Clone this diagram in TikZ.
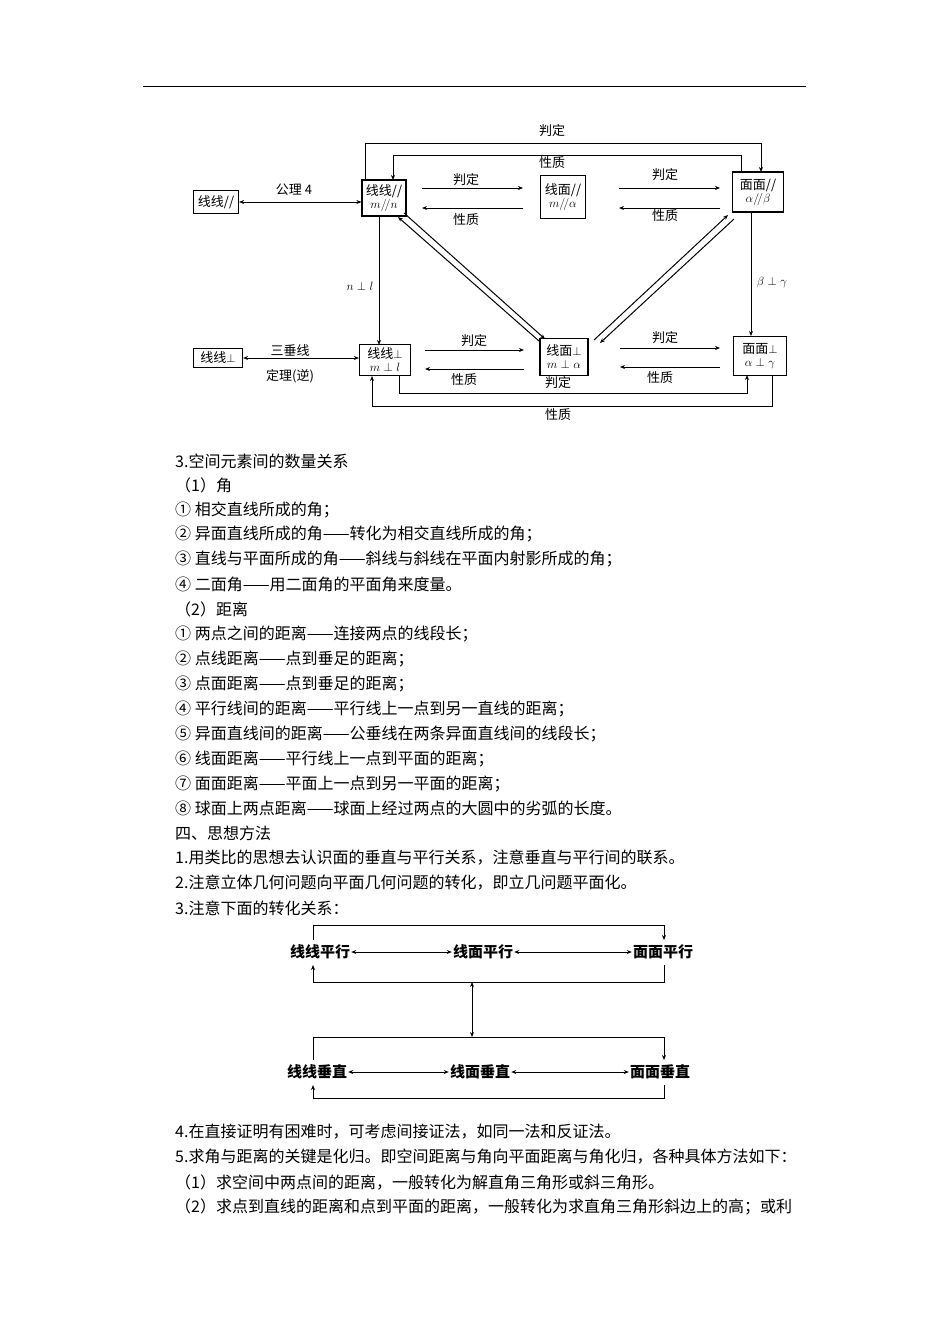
\documentclass[tikz,border=0pt]{standalone}
\usepackage{fontspec}
\setmainfont{Noto Sans CJK SC}
\usetikzlibrary{arrows.meta}
\begin{document}
\begin{tikzpicture}[x=1pt,y=-1pt,
  bx/.style={draw,line width=1.2pt,inner sep=1pt,font=\fontsize{13}{13}\selectfont,align=center},
  lb/.style={font=\fontsize{13}{14}\selectfont},
  ln/.style={anchor=west,inner sep=0pt,font=\fontsize{16}{17}\selectfont},
  ar/.style={-{Stealth[length=5pt,width=4pt]},line width=1pt},
  dar/.style={{Stealth[length=5pt,width=4pt]}-{Stealth[length=5pt,width=4pt]},line width=1pt},
  big/.style={font=\fontsize{15}{16}\selectfont\bfseries,inner sep=1pt}]
\useasboundingbox[fill=white] (0,0) rectangle (950,1344);
\draw[line width=0.8pt] (143,86) -- (806,86);
% top diagram nodes
\node[bx,minimum width=45pt,minimum height=23pt] (a0) at (216,202) {线线//};
\node[bx,minimum width=44pt,minimum height=36pt] (a1) at (384,198) {线线//\\$m/\!/n$};
\node[bx,minimum width=45pt,minimum height=43pt] (a2) at (563,197) {线面//\\$m/\!/\alpha$};
\node[bx,minimum width=51pt,minimum height=40pt] (a3) at (758,192) {面面//\\$\alpha/\!/\beta$};
\node[bx,minimum width=49pt,minimum height=19pt] (b0) at (218,358) {线线$\perp$};
\node[bx,minimum width=51pt,minimum height=31pt] (b1) at (385,360) {线线$\perp$\\$m\perp l$};
\node[bx,minimum width=48pt,minimum height=37pt] (b2) at (564,357) {线面$\perp$\\$m\perp\alpha$};
\node[bx,minimum width=53pt,minimum height=39pt] (b3) at (760,356) {面面$\perp$\\$\alpha\perp\gamma$};
% left
\draw[dar] (a0.east) -- (a1.west |- a0.east);
\node[lb] at (294,190) {公理 4};
\draw[dar] (b0.east) -- (b1.west |- b0.east);
\node[lb] at (290,351) {三垂线};
\node[lb] at (290,376) {定理(逆)};
% horizontal pairs
\draw[ar] (422,188) -- (523,188); \node[lb] at (466,180) {判定};
\draw[ar] (523,208) -- (422,208); \node[lb] at (466,220) {性质};
\draw[ar] (619,188) -- (720,188); \node[lb] at (665,175) {判定};
\draw[ar] (720,208) -- (619,208); \node[lb] at (665,216) {性质};
\draw[ar] (425,350) -- (524,350); \node[lb] at (474,341) {判定};
\draw[ar] (524,369) -- (425,369); \node[lb] at (464,380) {性质};
\draw[ar] (620,348) -- (720,348); \node[lb] at (665,338) {判定};
\draw[ar] (720,367) -- (620,367); \node[lb] at (660,378) {性质};
% top loops
\draw[ar] (365,180) -- (365,143) -- (761,143) -- (761,172);
\node[lb] at (552,131) {判定};
\draw[ar] (741,172) -- (741,155) -- (393,155) -- (393,180);
\node[lb] at (552,163) {性质};
% bottom loops
\draw[ar] (399,376) -- (399,393) -- (747,393) -- (747,375);
\node[lb] at (558,383) {判定};
\draw[ar] (772,375) -- (772,406) -- (372,406) -- (372,376);
\node[lb] at (558,415) {性质};
% verticals
\draw[ar] (379,216) -- (379,345); \node[lb] at (360,286) {$n\perp l$};
\draw[ar] (751,212) -- (751,336); \node[lb] at (772,282) {$\beta\perp\gamma$};
% diagonals
\draw[ar] (404,213) -- (545,339);
\draw[ar] (539,341) -- (398,217);
\draw[ar] (594,340) -- (728,215);
\draw[ar] (734,219) -- (600,343);
% text
\node[ln] at (175,461) {3.空间元素间的数量关系};
\node[ln] at (175,485) {（1）角};
\node[ln] at (175,510) {① 相交直线所成的角；};
\node[ln] at (175,534) {② 异面直线所成的角——转化为相交直线所成的角；};
\node[ln] at (175,559) {③ 直线与平面所成的角——斜线与斜线在平面内射影所成的角；};
\node[ln] at (175,584) {④ 二面角——用二面角的平面角来度量。};
\node[ln] at (175,609) {（2）距离};
\node[ln] at (175,634) {① 两点之间的距离——连接两点的线段长；};
\node[ln] at (175,659) {② 点线距离——点到垂足的距离；};
\node[ln] at (175,684) {③ 点面距离——点到垂足的距离；};
\node[ln] at (175,709) {④ 平行线间的距离——平行线上一点到另一直线的距离；};
\node[ln] at (175,734) {⑤ 异面直线间的距离——公垂线在两条异面直线间的线段长；};
\node[ln] at (175,759) {⑥ 线面距离——平行线上一点到平面的距离；};
\node[ln] at (175,784) {⑦ 面面距离——平面上一点到另一平面的距离；};
\node[ln] at (175,808) {⑧ 球面上两点距离——球面上经过两点的大圆中的劣弧的长度。};
\node[ln] at (175,833) {四、思想方法};
\node[ln] at (175,858) {1.用类比的思想去认识面的垂直与平行关系，注意垂直与平行间的联系。};
\node[ln] at (175,883) {2.注意立体几何问题向平面几何问题的转化，即立几问题平面化。};
\node[ln] at (175,908) {3.注意下面的转化关系：};
% second diagram
\node[big] (p1) at (320,952) {线线平行};
\node[big] (p2) at (483,952) {线面平行};
\node[big] (p3) at (663,952) {面面平行};
\node[big] (q1) at (317,1072) {线线垂直};
\node[big] (q2) at (480,1072) {线面垂直};
\node[big] (q3) at (660,1072) {面面垂直};
\draw[dar] (p1.east) -- (p2.west);
\draw[dar] (p2.east) -- (p3.west);
\draw[dar] (q1.east) -- (q2.west);
\draw[dar] (q2.east) -- (q3.west);
\draw[ar] (313,940) -- (313,925) -- (664,925) -- (664,940);
\draw[ar] (664,965) -- (664,982) -- (313,982) -- (313,965);
\draw[dar] (472,982) -- (472,1037);
\draw[ar] (313,1060) -- (313,1037) -- (664,1037) -- (664,1060);
\draw[ar] (664,1085) -- (664,1098) -- (313,1098) -- (313,1085);
\node[ln] at (175,1132) {4.在直接证明有困难时，可考虑间接证法，如同一法和反证法。};
\node[ln] at (175,1157) {5.求角与距离的关键是化归。即空间距离与角向平面距离与角化归，各种具体方法如下：};
\node[ln] at (175,1182) {（1）求空间中两点间的距离，一般转化为解直角三角形或斜三角形。};
\node[ln] at (175,1207) {（2）求点到直线的距离和点到平面的距离，一般转化为求直角三角形斜边上的高；或利};
\end{tikzpicture}
\end{document}
